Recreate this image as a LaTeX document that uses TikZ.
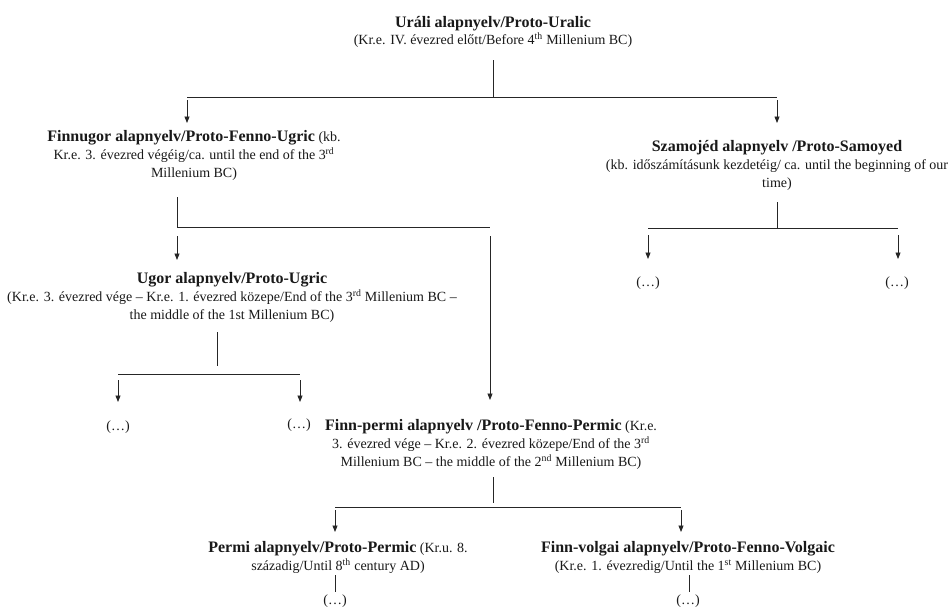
\documentclass[tikz,border=0pt]{standalone}
\usepackage{fontspec}
\setmainfont{Liberation Serif}
\usetikzlibrary{arrows.meta}
\newcommand\tbold[1]{{\fontsize{16}{18}\selectfont\bfseries #1}}
\begin{document}
\begin{tikzpicture}[x=1pt,y=-1pt,
  txt/.style={align=center,inner sep=0pt,font=\fontsize{14}{18}\selectfont,text=black!90},
  ln/.style={draw=black!85,line width=0.8pt},
  arr/.style={ln,-{Triangle[length=6.5pt,width=5pt]}}]
\useasboundingbox[fill=white] (0,0) rectangle (949,610);

% root
\node[txt,anchor=north] (uralic) at (493,16) {\tbold{Uráli alapnyelv/Proto-Uralic}\\[-1pt](Kr.e. IV. évezred előtt/Before 4\textsuperscript{th} Millenium BC)};
\coordinate (u0) at (493,60);
\coordinate (u1) at (493,97);
\coordinate (uL) at (187,97);
\coordinate (uR) at (777,97);
\draw[ln] (u0) -- (u1);
\draw[ln] (uL) -- (uR);
\draw[arr] (uL) ++(0,3) -- ++(0,23);
\draw[arr] (uR) ++(0,3) -- ++(0,23);

% Finno-Ugric
\node[txt,anchor=north] (finnugor) at (194,130) {\tbold{Finnugor alapnyelv/Proto-Fenno-Ugric} (kb.\\Kr.e. 3. évezred végéig/ca. until the end of the 3\textsuperscript{rd}\\Millenium BC)};
\coordinate (f0) at (177,197);
\coordinate (f1) at (177,227);
\coordinate (fR) at (490,227);
\draw[ln] (f0) -- (f1) -- (fR);
\draw[arr] (f1) ++(0,9) -- ++(0,24);
\draw[arr] (fR) ++(0,9) -- ++(0,164);

% Samoyed
\node[txt,anchor=north] (samoyed) at (777,140) {\tbold{Szamojéd alapnyelv /Proto-Samoyed}\\(kb. időszámításunk kezdetéig/ ca. until the beginning of our\\time)};
\coordinate (s0) at (777,202);
\coordinate (s1) at (777,228);
\coordinate (sL) at (648,228);
\coordinate (sR) at (898,228);
\draw[ln] (s0) -- (s1);
\draw[ln] (sL) -- (sR);
\draw[arr] (sL) ++(0,7) -- ++(0,24);
\draw[arr] (sR) ++(0,7) -- ++(0,24);
\node[txt] (sd1) at (648,283) {(…)};
\node[txt] (sd2) at (897,283) {(…)};

% Ugric
\node[txt,anchor=north] (ugor) at (232,272) {\tbold{Ugor alapnyelv/Proto-Ugric}\\(Kr.e. 3. évezred vége – Kr.e. 1. évezred közepe/End of the 3\textsuperscript{rd} Millenium BC –\\the middle of the 1st Millenium BC)};
\coordinate (g0) at (217,332);
\coordinate (g1) at (217,366);
\coordinate (gL) at (118,374);
\coordinate (gR) at (300,374);
\draw[ln] (g0) -- (g1);
\draw[ln] (gL) -- (gR);
\draw[arr] (gL) ++(0,6) -- ++(0,22);
\draw[arr] (gR) ++(0,6) -- ++(0,22);
\node[txt] (gd1) at (118,427) {(…)};
\node[txt] (gd2) at (299,425) {(…)};

% Finno-Permic
\node[txt,anchor=north] (finnpermi) at (491,419) {\tbold{Finn-permi alapnyelv /Proto-Fenno-Permic} (Kr.e.\\3. évezred vége – Kr.e. 2. évezred közepe/End of the 3\textsuperscript{rd}\\Millenium BC – the middle of the 2\textsuperscript{nd} Millenium BC)};
\coordinate (p0) at (493,477);
\coordinate (p1) at (493,503);
\coordinate (pL) at (335,507);
\coordinate (pR) at (681,507);
\draw[ln] (p0) -- (p1);
\draw[ln] (pL) -- (pR);
\draw[arr] (pL) ++(0,3) -- ++(0,22);
\draw[arr] (pR) ++(0,3) -- ++(0,22);

% Permic and Finno-Volgaic
\node[txt,anchor=north] (permi) at (338,541) {\tbold{Permi alapnyelv/Proto-Permic} (Kr.u. 8.\\századig/Until 8\textsuperscript{th} century AD)};
\node[txt,anchor=north] (volgai) at (688,541) {\tbold{Finn-volgai alapnyelv/Proto-Fenno-Volgaic}\\(Kr.e. 1. évezredig/Until the 1\textsuperscript{st} Millenium BC)};
\coordinate (m0) at (335,575);
\coordinate (m1) at (335,592);
\coordinate (v0) at (689,575);
\coordinate (v1) at (689,592);
\draw[ln] (m0) -- (m1);
\draw[ln] (v0) -- (v1);
\node[txt] (md) at (335,601) {(…)};
\node[txt] (vd) at (688,601) {(…)};
\end{tikzpicture}
\end{document}
